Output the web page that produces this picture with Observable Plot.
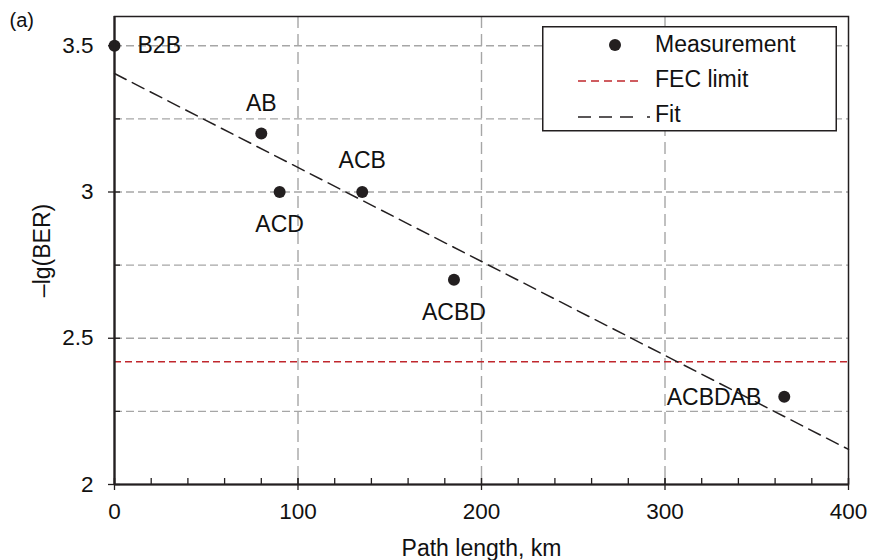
<!DOCTYPE html>
<html><head><meta charset="utf-8">
<script src="https://cdn.jsdelivr.net/npm/d3@7"></script>
<script src="https://cdn.jsdelivr.net/npm/@observablehq/plot@0.6"></script>
<style>
body{margin:0;background:#fff;font-family:"Liberation Sans",Arial,sans-serif;}
#wrap{position:relative;width:872px;height:560px;}
#legend{position:absolute;left:542px;top:26px;}
</style></head>
<body><div id="wrap"><div id="chart"></div>
<svg id="legend" width="296" height="106" font-family="'Liberation Sans', Arial, sans-serif" font-size="23" fill="#111">
  <rect x="0.75" y="0.75" width="293.5" height="104" fill="#fff" stroke="#231f20" stroke-width="1.5"/>
  <circle cx="73" cy="19" r="6" fill="#231f20"/>
  <text x="113" y="26">Measurement</text>
  <line x1="36" x2="100" y1="55" y2="55" stroke="#c0272d" stroke-width="1.5" stroke-dasharray="8,5"/>
  <text x="113" y="61">FEC limit</text>
  <line x1="36" x2="111" y1="91" y2="91" stroke="#231f20" stroke-width="1.5" stroke-dasharray="13,8,13,8,13,14,3"/>
  <text x="113" y="96">Fit</text>
</svg>
</div>
<script>
const names = ["B2B","AB","ACD","ACB","ACBD","ACBDAB"];
const pathKm = [0, 80, 90, 135, 185, 365];
const negLogBER = [3.5, 3.2, 3.0, 3.0, 2.7, 2.3];
const fitX = [0, 400];
const fitY = [3.405, 2.12];
const fecLimit = [2.42];
const xTicks = [0, 100, 200, 300, 400];
const xMinor = d3.range(0, 401, 20);
const yTicks = [2, 2.5, 3, 3.5];
const yMinor = [2.25, 2.75, 3.25];
const yGrid = [2.25, 2.5, 2.75, 3, 3.25, 3.5];
const xGrid = [100, 200, 300];

const pts = names.map((n, i) => ({name: n, x: pathKm[i], y: negLogBER[i]}));
const fit = fitX.map((x, i) => ({x, y: fitY[i]}));
const labelPos = {
  B2B: {dx: 23, dy: 0, anchor: "start"},
  AB: {dx: 0, dy: -30, anchor: "middle"},
  ACD: {dx: 0, dy: 33, anchor: "middle"},
  ACB: {dx: 0, dy: -31, anchor: "middle"},
  ACBD: {dx: 0, dy: 33, anchor: "middle"},
  ACBDAB: {dx: -23, dy: 1, anchor: "end"}
};
const W = 872, H = 560, mL = 114, mR = 24, mT = 16, mB = 76;
const plotW = W - mL - mR, plotH = H - mT - mB;
const FS = 23;
const labelMarks = names.map(n => {
  const p = labelPos[n];
  return Plot.text(pts.filter(d => d.name === n), {x: "x", y: "y", text: "name", dx: p.dx, dy: p.dy, textAnchor: p.anchor, fontSize: FS, fill: "#111"});
});

const chart = Plot.plot({
  width: W, height: H,
  marginLeft: mL, marginRight: mR, marginTop: mT, marginBottom: mB,
  style: {fontFamily: "'Liberation Sans', Arial, sans-serif", background: "#fff", overflow: "visible"},
  x: {domain: [0, 400]},
  y: {domain: [2, 3.6]},
  marks: [
    Plot.ruleY(yGrid, {stroke: "#a6a6a6", strokeWidth: 1.4, strokeDasharray: "8,4"}),
    Plot.ruleX(xGrid, {stroke: "#a6a6a6", strokeWidth: 1.4, strokeDasharray: "12,6"}),
    Plot.ruleY(fecLimit, {stroke: "#c0272d", strokeWidth: 1.5, strokeDasharray: "7,4"}),
    Plot.line(fit, {x: "x", y: "y", stroke: "#231f20", strokeWidth: 1.5, strokeDasharray: "13,7"}),
    Plot.dot(pts, {x: "x", y: "y", r: 6, fill: "#231f20"}),
    ...labelMarks,
    Plot.frame({stroke: "#231f20", strokeWidth: 1.5}),
    Plot.ruleX(xMinor, {stroke: "#231f20", strokeWidth: 1.3, insetTop: plotH - 6}),
    Plot.ruleY(yMinor, {stroke: "#231f20", strokeWidth: 1.3, insetRight: plotW - 6}),
    Plot.ruleY(yTicks, {stroke: "#231f20", strokeWidth: 1.3, insetRight: plotW - 6}),
    Plot.ruleX(xTicks, {stroke: "#231f20", strokeWidth: 1.3, insetTop: plotH - 6}),
    Plot.axisX({ticks: xTicks, tickSize: 6, tickPadding: 13, fontSize: 22.5, stroke: "#231f20", strokeWidth: 1.3, color: "#111", label: null, tickFormat: d => String(d)}),
    Plot.axisY({ticks: yTicks, tickSize: 6, tickPadding: 15, fontSize: 22.5, stroke: "#231f20", strokeWidth: 1.3, color: "#111", label: null, tickFormat: d => String(d)}),
    Plot.ruleX([0], {stroke: "#231f20", strokeWidth: 2.2}),
    Plot.ruleY([2], {stroke: "#231f20", strokeWidth: 2.2}),
    Plot.text(["Path length, km"], {frameAnchor: "bottom", dy: 64, lineAnchor: "middle", textAnchor: "middle", fontSize: FS, fill: "#111"}),
    Plot.text(["\u2013lg(BER)"], {frameAnchor: "left", dx: -72, rotate: -90, lineAnchor: "middle", textAnchor: "middle", fontSize: FS, fill: "#111"}),
    Plot.text(["(a)"], {frameAnchor: "top-left", dx: -105, dy: 4, lineAnchor: "middle", textAnchor: "start", fontSize: 20, fill: "#111"})
  ]
});
document.getElementById("chart").appendChild(chart);
</script></body></html>
